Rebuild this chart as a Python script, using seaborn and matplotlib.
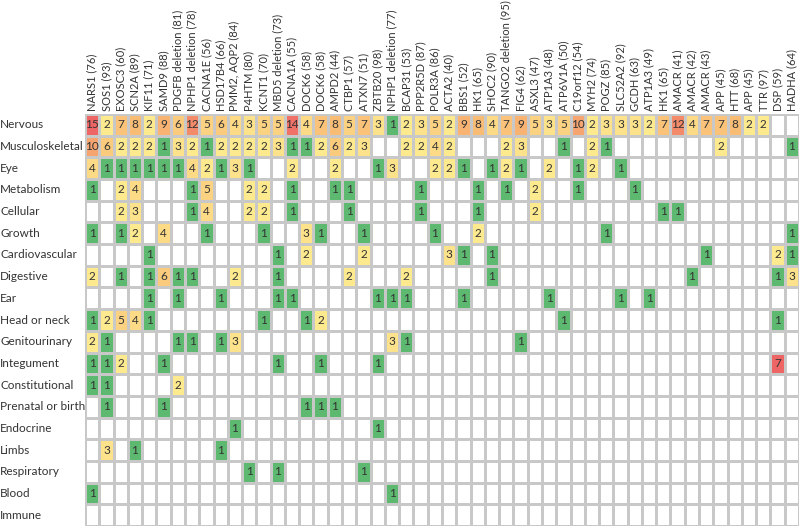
# phenotype counts per organ system for each variant, shown as a coloured grid
import numpy as np
import matplotlib
import matplotlib.pyplot as plt
from matplotlib.colors import ListedColormap, LinearSegmentedColormap
import seaborn as sns

matplotlib.use("Agg")

genes = ["NARS1 (76)", "SOS1 (93)", "EXOSC3 (60)", "SCN2A (89)", "KIF11 (71)",
         "SAMD9 (88)", "PDGFB deletion (81)", "NPHP1 deletion (78)", "CACNA1E (56)",
         "HSD17B4 (66)", "PMM2, AQP2 (84)", "P4HTM (80)", "KCNT1 (70)",
         "MBD5 deletion (73)", "CACNA1A (55)", "DOCK6 (58)", "DOCK6 (58)",
         "AMPD2 (44)", "CTBP1 (57)", "ATXN7 (51)", "ZBTB20 (98)",
         "NPHP1 deletion (77)", "BCAP31 (53)", "PPP2R5D (87)", "POLR3A (86)",
         "ACTA2 (40)", "BBS1 (52)", "HK1 (65)", "SHOC2 (90)", "TANGO2 deletion (95)",
         "FIG4 (62)", "ASXL3 (47)", "ATP1A3 (48)", "ATP6V1A (50)", "C19orf12 (54)",
         "MYH2 (74)", "POGZ (85)", "SLC52A2 (92)", "GCDH (63)", "ATP1A3 (49)",
         "HK1 (65)", "AMACR (41)", "AMACR (42)", "AMACR (43)", "APP (45)",
         "HTT (68)", "APP (45)", "TTR (97)", "DSP (59)", "HADHA (64)"]

systems = ["Nervous", "Musculoskeletal", "Eye", "Metabolism", "Cellular", "Growth",
           "Cardiovascular", "Digestive", "Ear", "Head or neck", "Genitourinary",
           "Integument", "Constitutional", "Prenatal or birth", "Endocrine", "Limbs",
           "Respiratory", "Blood", "Immune"]

# 0 = no phenotype recorded
nervous =         [15, 2, 7, 8, 2, 9, 6, 12, 5, 6,  4, 3, 5, 5, 14, 4, 7, 8, 5, 7,
                   3, 1, 2, 3, 5, 2, 9, 8, 4, 7,  9, 5, 3, 5, 10, 2, 3, 3, 3, 2,
                   7, 12, 4, 7, 7, 8, 2, 2, 0, 0]
musculoskeletal = [10, 6, 2, 2, 2, 1, 3, 2, 1, 2,  2, 2, 2, 3, 1, 1, 2, 6, 2, 3,
                   0, 0, 2, 2, 4, 2, 0, 0, 0, 2,  3, 0, 0, 1, 0, 2, 1, 0, 0, 0,
                   0, 0, 0, 0, 2, 0, 0, 0, 0, 1]
eye =             [4, 1, 1, 1, 1, 1, 1, 4, 2, 1,  3, 1, 0, 0, 2, 0, 0, 2, 0, 0,
                   1, 3, 0, 0, 2, 2, 1, 0, 1, 2,  1, 0, 2, 0, 1, 2, 0, 1, 0, 0,
                   0, 0, 0, 0, 0, 0, 0, 0, 0, 0]
metabolism =      [1, 0, 2, 4, 0, 0, 0, 1, 5, 0,  0, 2, 2, 0, 1, 0, 0, 1, 1, 0,
                   0, 0, 0, 1, 0, 0, 0, 1, 0, 1,  0, 2, 0, 0, 1, 0, 0, 0, 1, 0,
                   0, 0, 0, 0, 0, 0, 0, 0, 0, 0]
cellular =        [0, 0, 2, 3, 0, 0, 0, 1, 4, 0,  0, 2, 2, 0, 1, 0, 0, 0, 1, 0,
                   0, 0, 0, 1, 0, 0, 0, 1, 0, 0,  0, 2, 0, 0, 0, 0, 0, 0, 0, 0,
                   1, 1, 0, 0, 0, 0, 0, 0, 0, 0]
growth =          [1, 0, 1, 2, 0, 4, 0, 0, 1, 0,  0, 0, 1, 0, 0, 3, 1, 0, 0, 1,
                   0, 0, 0, 0, 1, 0, 0, 2, 0, 0,  0, 0, 0, 0, 0, 0, 1, 0, 0, 0,
                   0, 0, 0, 0, 0, 0, 0, 0, 0, 1]
cardiovascular =  [0, 0, 0, 0, 1, 0, 0, 0, 0, 0,  0, 0, 0, 1, 0, 2, 0, 0, 0, 2,
                   0, 0, 0, 0, 0, 3, 1, 0, 1, 0,  0, 0, 0, 0, 0, 0, 0, 0, 0, 0,
                   0, 0, 0, 1, 0, 0, 0, 0, 2, 1]
digestive =       [2, 0, 1, 0, 1, 6, 1, 1, 0, 0,  2, 0, 0, 1, 0, 0, 0, 0, 2, 0,
                   0, 0, 2, 0, 0, 0, 0, 0, 1, 0,  0, 0, 0, 0, 0, 0, 0, 0, 0, 0,
                   0, 0, 1, 0, 0, 0, 0, 0, 1, 3]
ear =             [0, 0, 0, 0, 1, 0, 1, 0, 0, 1,  0, 0, 0, 1, 1, 0, 0, 0, 0, 0,
                   1, 1, 1, 0, 0, 0, 1, 0, 0, 0,  0, 0, 1, 0, 0, 0, 0, 1, 0, 1,
                   0, 0, 0, 0, 0, 0, 0, 0, 0, 0]
head_neck =       [1, 2, 5, 4, 1, 0, 0, 0, 0, 0,  0, 0, 1, 0, 0, 1, 2, 0, 0, 0,
                   0, 0, 0, 0, 0, 0, 0, 0, 0, 0,  0, 0, 0, 1, 0, 0, 0, 0, 0, 0,
                   0, 0, 0, 0, 0, 0, 0, 0, 1, 0]
genitourinary =   [2, 1, 0, 0, 0, 0, 1, 1, 0, 1,  3, 0, 0, 0, 0, 0, 0, 0, 0, 0,
                   0, 3, 1, 0, 0, 0, 0, 0, 0, 0,  1, 0, 0, 0, 0, 0, 0, 0, 0, 0,
                   0, 0, 0, 0, 0, 0, 0, 0, 0, 0]
integument =      [1, 1, 2, 0, 0, 1, 0, 0, 0, 0,  0, 0, 0, 1, 0, 0, 1, 0, 0, 0,
                   1, 0, 0, 0, 0, 0, 0, 0, 0, 0,  0, 0, 0, 0, 0, 0, 0, 0, 0, 0,
                   0, 0, 0, 0, 0, 0, 0, 0, 7, 0]
constitutional =  [1, 1, 0, 0, 0, 0, 2, 0, 0, 0,  0, 0, 0, 0, 0, 0, 0, 0, 0, 0,
                   0, 0, 0, 0, 0, 0, 0, 0, 0, 0,  0, 0, 0, 0, 0, 0, 0, 0, 0, 0,
                   0, 0, 0, 0, 0, 0, 0, 0, 0, 0]
prenatal =        [0, 1, 0, 0, 0, 1, 0, 0, 0, 0,  0, 0, 0, 0, 0, 1, 1, 1, 0, 0,
                   0, 0, 0, 0, 0, 0, 0, 0, 0, 0,  0, 0, 0, 0, 0, 0, 0, 0, 0, 0,
                   0, 0, 0, 0, 0, 0, 0, 0, 0, 0]
endocrine =       [0, 0, 0, 0, 0, 0, 0, 0, 0, 0,  1, 0, 0, 0, 0, 0, 0, 0, 0, 0,
                   1, 0, 0, 0, 0, 0, 0, 0, 0, 0,  0, 0, 0, 0, 0, 0, 0, 0, 0, 0,
                   0, 0, 0, 0, 0, 0, 0, 0, 0, 0]
limbs =           [0, 3, 0, 1, 0, 0, 0, 0, 0, 1,  0, 0, 0, 0, 0, 0, 0, 0, 0, 0,
                   0, 0, 0, 0, 0, 0, 0, 0, 0, 0,  0, 0, 0, 0, 0, 0, 0, 0, 0, 0,
                   0, 0, 0, 0, 0, 0, 0, 0, 0, 0]
respiratory =     [0, 0, 0, 0, 0, 0, 0, 0, 0, 0,  0, 1, 0, 1, 0, 0, 0, 0, 0, 1,
                   0, 0, 0, 0, 0, 0, 0, 0, 0, 0,  0, 0, 0, 0, 0, 0, 0, 0, 0, 0,
                   0, 0, 0, 0, 0, 0, 0, 0, 0, 0]
blood =           [1, 0, 0, 0, 0, 0, 0, 0, 0, 0,  0, 0, 0, 0, 0, 0, 0, 0, 0, 0,
                   0, 1, 0, 0, 0, 0, 0, 0, 0, 0,  0, 0, 0, 0, 0, 0, 0, 0, 0, 0,
                   0, 0, 0, 0, 0, 0, 0, 0, 0, 0]
immune =          [0] * 50

counts = np.array([nervous, musculoskeletal, eye, metabolism, cellular, growth,
                   cardiovascular, digestive, ear, head_neck, genitourinary,
                   integument, constitutional, prenatal, endocrine, limbs,
                   respiratory, blood, immune])

# the DSP integument cell is shown at the top of the scale in the original
flagged = [("Integument", "DSP (59)")]
levels = counts.copy()
for sys_name, gene in flagged:
    levels[systems.index(sys_name), genes.index(gene)] = 15

plt.rcParams["font.family"] = ["Lato", "DejaVu Sans"]

# 0 white, 1 green, 2..15 yellow -> orange -> red
ramp = LinearSegmentedColormap.from_list("ramp", ["#fde98e", "#f9b873", "#ee6565"])
colours = ["white", "#5db970"] + [ramp(i / 13) for i in range(14)]
cmap = ListedColormap(colours)

annot = np.where(counts > 0, counts.astype(str), "")

fig = plt.figure(figsize=(8, 5.27), dpi=100)
ax = fig.add_axes([85 / 800, 1 / 527, 714 / 800, (527 - 115) / 527])
sns.heatmap(levels, cmap=cmap, vmin=-0.5, vmax=15.5, annot=annot, fmt="",
            cbar=False, linewidths=1, linecolor="#c8c8c8",
            xticklabels=genes, yticklabels=systems,
            annot_kws={"fontsize": 8.5, "color": "#333333"}, ax=ax)

ax.xaxis.tick_top()
ax.set_xticklabels(genes, rotation=90, fontsize=8, color="#333333")
ax.set_yticklabels(systems, rotation=0, fontsize=8.5, color="#333333")
ax.tick_params(axis="x", length=0, pad=2)
ax.tick_params(axis="y", length=0, pad=61)
for lab in ax.get_yticklabels():
    lab.set_ha("left")

fig.savefig("out.png", dpi=100)
